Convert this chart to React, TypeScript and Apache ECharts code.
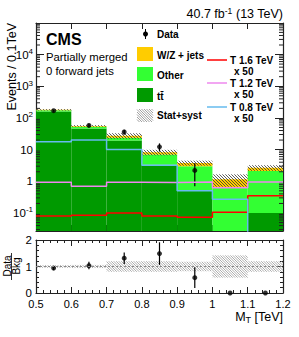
import React, { useEffect, useRef } from "react";
import * as echarts from "echarts";

// ---- data ----
const binLow = [0.5, 0.6, 0.7, 0.8, 0.9, 1.0, 1.1];
const BIN_W = 0.1;
const ttbar = [160, 46, 19.5, 3.3, 0.5, 0.015, 0.1];
const other = [14, 7, 4.2, 3.7, 2.5, 0.62, 2.0];
const wzJets = [6, 3, 3.7, 1.2, 0.8, 0.53, 0.58];
const dataObs = [169, 58, 36, 12.2, 2.2, 0, 0];
const dataErr = [12, 8, 6, 3.5, 1.5, 0, 0];
const relUnc = [0.05, 0.06, 0.2, 0.2, 0.18, 0.42, 0.2];
const sigT16 = [0.08, 0.085, 0.1, 0.08, 0.073, 0.105, 0.35];
const sigT12 = [0.93, 0.7, 0.93, 0.92, 0.95, 0.63, 0.95];
const sigT08 = [17.8, 20, 10, 3.2, 0.5, 0.27, 0.01];
const xTickLabels = ["0.5", "0.6", "0.7", "0.8", "0.9", "1", "1.1", "1.2"];
const logMinorMantissas = [2, 3, 4, 5, 6, 7, 8, 9];
const logDecades = [-2, -1, 0, 1, 2, 3, 4];

const Y_MIN = 0.027;
const Y_MAX = 99000;
const X_MIN = 0.5;
const X_MAX = 1.2;

const FONT = "'Liberation Sans', Arial, Helvetica, sans-serif";
const C_TT = "#009a00";
const C_OTHER = "#33ff33";
const C_WZ = "#ffcc00";
const C_T16 = "#ff0000";
const C_T12 = "#ee88ee";
const C_T08 = "#66bbee";
const AX = "#222";

function hatchLines(x0: number, y0: number, x1: number, y1: number, step: number, stroke: string, lw: number) {
  const out: any[] = [];
  const cStart = Math.ceil((y0 - x1) / step) * step;
  for (let c = cStart; c <= y1 - x0; c += step) {
    const xa = Math.max(x0, y0 - c);
    const xb = Math.min(x1, y1 - c);
    if (xb > xa) {
      out.push({ type: "line", shape: { x1: xa, y1: xa + c, x2: xb, y2: xb + c }, style: { stroke, lineWidth: lw } });
    }
  }
  return out;
}

export default function App() {
  const ref = useRef<HTMLDivElement>(null);
  useEffect(() => {
    const chart = echarts.init(ref.current!, null, { renderer: "svg" });
    const total = binLow.map((_, i) => ttbar[i] + other[i] + wzJets[i]);
    const ratio = binLow.map((_, i) => (total[i] > 0 ? dataObs[i] / total[i] : 0));
    const ratioErr = binLow.map((_, i) => (total[i] > 0 ? dataErr[i] / total[i] : 0));

    const stackFill = (name: string, vals: number[], base: number[], color: string) => ({
      type: "custom",
      name,
      xAxisIndex: 0,
      yAxisIndex: 0,
      clip: true,
      data: binLow.map((x, i) => [x, x + BIN_W, base[i], base[i] + vals[i]]),
      renderItem: (_p: any, api: any) => {
        const top = api.value(3);
        if (top <= Y_MIN) return null;
        const lo = Math.max(api.value(2), Y_MIN);
        const p0 = api.coord([api.value(0), top]);
        const p1 = api.coord([api.value(1), lo]);
        return {
          type: "rect",
          shape: { x: p0[0], y: p0[1], width: p1[0] - p0[0], height: p1[1] - p0[1] },
          style: { fill: color },
        };
      },
    });

    const zeros = binLow.map(() => 0);
    const base2 = ttbar.slice();
    const base3 = binLow.map((_, i) => ttbar[i] + other[i]);

    const stepData = (v: number[]) => [...binLow.map((x, i) => [x, v[i]]), [X_MAX, v[v.length - 1]]];
    const sigLine = (name: string, v: number[], color: string) => ({
      type: "line",
      name,
      xAxisIndex: 0,
      yAxisIndex: 0,
      step: "end",
      symbol: "none",
      clip: true,
      data: stepData(v),
      lineStyle: { color, width: 1.5 },
    });

    const errBars = (xi: number, yi: number, pts: number[][], minY: number) => ({
      type: "custom",
      xAxisIndex: xi,
      yAxisIndex: yi,
      clip: false,
      data: pts,
      renderItem: (_p: any, api: any) => {
        const lo = Math.max(api.value(1), minY);
        const p0 = api.coord([api.value(0), lo]);
        const p1 = api.coord([api.value(0), api.value(2)]);
        return { type: "line", shape: { x1: p0[0], y1: p0[1], x2: p1[0], y2: p1[1] }, style: { stroke: "#000", lineWidth: 1.2 } };
      },
    });

    const mainPts = binLow.map((x, i) => [x + BIN_W / 2, dataObs[i]]).filter((p) => p[1] > 0);
    const mainErr = binLow
      .map((x, i) => [x + BIN_W / 2, dataObs[i] - dataErr[i], dataObs[i] + dataErr[i]])
      .filter((p, i) => dataObs[i] > 0);
    const ratioPts = binLow.map((x, i) => [x + BIN_W / 2, ratio[i]]);
    const ratioErrPts = binLow
      .map((x, i) => [x + BIN_W / 2, ratio[i] - ratioErr[i], ratio[i] + ratioErr[i]])
      .filter((p, i) => ratioErr[i] > 0);

    const minorVals: number[] = [];
    logDecades.forEach((k) =>
      logMinorMantissas.forEach((m) => {
        const v = m * Math.pow(10, k);
        if (v > Y_MIN && v < Y_MAX) minorVals.push(v);
      })
    );

    const xAxisBase = (grid: number, pos: string, labels: boolean, minor: boolean) => ({
      gridIndex: grid,
      type: "value",
      position: pos,
      min: X_MIN,
      max: X_MAX,
      interval: 0.1,
      axisLine: { show: true, onZero: false, lineStyle: { color: AX, width: 1.2 } },
      axisTick: { show: true, inside: true, length: 6, lineStyle: { color: AX } },
      minorTick: { show: minor, splitNumber: 5, length: 3, lineStyle: { color: AX } },
      splitLine: { show: false },
      minorSplitLine: { show: false },
      axisLabel: {
        show: labels,
        margin: 5,
        fontSize: 11,
        fontFamily: FONT,
        color: "#000",
        formatter: (v: number) => xTickLabels[Math.round((v - X_MIN) * 10)] ?? "",
      },
    });

    const logLabel = (v: number) => {
      const k = Math.round(Math.log10(v));
      if (k === 0) return "1";
      if (k === 1) return "10";
      return `10{s|${k}}`;
    };

    const yLog = (pos: string, labels: boolean) => ({
      gridIndex: 0,
      type: "log",
      logBase: 10,
      position: pos,
      min: Y_MIN,
      max: Y_MAX,
      splitNumber: 7,
      axisLine: { show: true, onZero: false, lineStyle: { color: AX, width: 1.2 } },
      axisTick: { show: true, inside: true, length: 8, lineStyle: { color: AX } },
      splitLine: { show: false },
      axisLabel: {
        show: labels,
        showMinLabel: false,
        showMaxLabel: false,
        margin: 3,
        fontSize: 11.5,
        fontFamily: FONT,
        color: "#000",
        formatter: logLabel,
        rich: { s: { fontSize: 8, fontFamily: FONT, color: "#000", verticalAlign: "top", padding: [0, 0, 6, 0] } },
      },
    });

    const yRatio = (pos: string, labels: boolean) => ({
      gridIndex: 1,
      type: "value",
      position: pos,
      min: 0,
      max: 2,
      interval: 1,
      axisLine: { show: true, onZero: false, lineStyle: { color: AX, width: 1.2 } },
      axisTick: { show: true, inside: true, length: 6, lineStyle: { color: AX } },
      minorTick: { show: true, splitNumber: 5, length: 3, lineStyle: { color: AX } },
      splitLine: { show: false },
      minorSplitLine: { show: false },
      axisLabel: { show: labels, margin: 4, fontSize: 11.5, fontFamily: FONT, color: "#000" },
    });

    const legendText = (x: number, y: number, text: string) => ({
      type: "text",
      x,
      y,
      style: { text, fontSize: 10, fontWeight: "bold", fontFamily: FONT, fill: "#000", textVerticalAlign: "middle" },
    });
    const legendBox = (y: number, color: string) => ({
      type: "rect",
      shape: { x: 137, y: y - 7, width: 16, height: 14 },
      style: { fill: color },
    });
    const legendLine = (y: number, color: string) => ({
      type: "line",
      shape: { x1: 207, y1: y, x2: 227, y2: y },
      style: { stroke: color, lineWidth: 1.5 },
    });

    const option: any = {
      animation: false,
      backgroundColor: "#fff",
      grid: [
        { left: 36, top: 23, width: 247, height: 208, outerBoundsMode: "none" },
        { left: 36, top: 240, width: 247, height: 53, outerBoundsMode: "none" },
      ],
      xAxis: [
        xAxisBase(0, "bottom", false, false),
        xAxisBase(0, "top", false, false),
        xAxisBase(1, "bottom", true, true),
        xAxisBase(1, "top", false, true),
      ],
      yAxis: [yLog("left", true), yLog("right", false), yRatio("left", true), yRatio("right", false)],
      series: [
        stackFill("ttbar", ttbar, zeros, C_TT),
        stackFill("Other", other, base2, C_OTHER),
        stackFill("W/Z + jets", wzJets, base3, C_WZ),
        {
          type: "custom",
          name: "Stat+syst",
          xAxisIndex: 0,
          yAxisIndex: 0,
          clip: true,
          data: binLow.map((x, i) => [x, x + BIN_W, total[i] * (1 - relUnc[i]), total[i] * (1 + relUnc[i])]),
          renderItem: (_p: any, api: any) => {
            const p0 = api.coord([api.value(0), api.value(3)]);
            const p1 = api.coord([api.value(1), Math.max(api.value(2), Y_MIN)]);
            return { type: "group", children: hatchLines(p0[0], p0[1], p1[0], p1[1], 3, "#333", 0.8) };
          },
        },
        sigLine("T 1.6 TeV", sigT16, C_T16),
        sigLine("T 1.2 TeV", sigT12, C_T12),
        sigLine("T 0.8 TeV", sigT08, C_T08),
        {
          type: "custom",
          xAxisIndex: 0,
          yAxisIndex: 0,
          clip: false,
          data: [[X_MIN, 1]],
          renderItem: (_p: any, api: any) => {
            const children: any[] = [];
            minorVals.forEach((v) => {
              const l = api.coord([X_MIN, v]);
              const r = api.coord([X_MAX, v]);
              children.push({ type: "line", shape: { x1: l[0], y1: l[1], x2: l[0] + 4, y2: l[1] }, style: { stroke: AX, lineWidth: 1 } });
              children.push({ type: "line", shape: { x1: r[0], y1: r[1], x2: r[0] - 4, y2: r[1] }, style: { stroke: AX, lineWidth: 1 } });
            });
            return { type: "group", children };
          },
        },
        errBars(0, 0, mainErr, Y_MIN),
        {
          type: "scatter",
          name: "Data",
          xAxisIndex: 0,
          yAxisIndex: 0,
          symbol: "circle",
          symbolSize: 5,
          itemStyle: { color: "#000" },
          data: mainPts,
        },
        // ratio panel
        {
          type: "custom",
          xAxisIndex: 2,
          yAxisIndex: 2,
          clip: true,
          data: binLow.map((x, i) => [x, x + BIN_W, 1 - relUnc[i], 1 + relUnc[i]]),
          renderItem: (_p: any, api: any) => {
            const p0 = api.coord([api.value(0), api.value(3)]);
            const p1 = api.coord([api.value(1), api.value(2)]);
            return { type: "group", children: hatchLines(p0[0], p0[1], p1[0], p1[1], 2.5, "#999", 0.8) };
          },
        },
        {
          type: "line",
          xAxisIndex: 2,
          yAxisIndex: 2,
          symbol: "none",
          data: [[X_MIN, 1], [X_MAX, 1]],
          lineStyle: { color: "#888", width: 1.2, type: [2, 2] },
        },
        errBars(2, 2, ratioErrPts, 0),
        {
          type: "scatter",
          xAxisIndex: 2,
          yAxisIndex: 2,
          symbol: "circle",
          symbolSize: 5,
          clip: false,
          itemStyle: { color: "#000" },
          data: ratioPts,
        },
      ],
      graphic: [
        { type: "text", x: 46, y: 39, style: { text: "CMS", fontSize: 16, fontWeight: "bold", fontFamily: FONT, fill: "#000", textVerticalAlign: "middle" } },
        { type: "text", x: 46, y: 57, style: { text: "Partially merged", fontSize: 11.3, fontFamily: FONT, fill: "#000", textVerticalAlign: "middle" } },
        { type: "text", x: 46, y: 71, style: { text: "0 forward jets", fontSize: 11.3, fontFamily: FONT, fill: "#000", textVerticalAlign: "middle" } },
        {
          type: "text",
          x: 283,
          y: 14,
          style: {
            text: "{a|40.7 fb}{s|-1}{a| (13 TeV)}",
            textAlign: "right",
            textVerticalAlign: "middle",
            rich: {
              a: { fontSize: 12.5, fontFamily: FONT, fill: "#000" },
              s: { fontSize: 8.5, fontFamily: FONT, fill: "#000", verticalAlign: "top", padding: [0, 0, 6, 0] },
            },
          },
        },
        {
          type: "text",
          x: 12,
          y: 23,
          rotation: Math.PI / 2,
          style: { text: "Events / 0.1TeV", fontSize: 12.5, fontFamily: FONT, fill: "#000", textAlign: "right", textVerticalAlign: "middle" },
        },
        {
          type: "text",
          x: 7,
          y: 266,
          rotation: Math.PI / 2,
          style: { text: "Data", fontSize: 10, fontFamily: FONT, fill: "#000", textAlign: "center", textVerticalAlign: "middle" },
        },
        { type: "line", shape: { x1: 11.5, y1: 253, x2: 11.5, y2: 280 }, style: { stroke: "#000", lineWidth: 0.8 } },
        {
          type: "text",
          x: 16,
          y: 266,
          rotation: Math.PI / 2,
          style: { text: "Bkg", fontSize: 10, fontFamily: FONT, fill: "#000", textAlign: "center", textVerticalAlign: "middle" },
        },
        {
          type: "text",
          x: 283,
          y: 317,
          style: {
            text: "{a|M}{b|T}{a| [TeV]}",
            textAlign: "right",
            textVerticalAlign: "middle",
            rich: {
              a: { fontSize: 12.5, fontFamily: FONT, fill: "#000" },
              b: { fontSize: 9, fontFamily: FONT, fill: "#000", verticalAlign: "bottom", padding: [5, 0, 0, 0] },
            },
          },
        },
        // legend column 1
        { type: "circle", shape: { cx: 145.5, cy: 34, r: 2.5 }, style: { fill: "#000" } },
        { type: "line", shape: { x1: 145.5, y1: 29, x2: 145.5, y2: 39 }, style: { stroke: "#000", lineWidth: 1 } },
        legendText(157, 34, "Data"),
        legendBox(54, C_WZ),
        legendText(157, 55, "W/Z + jets"),
        legendBox(74, C_OTHER),
        legendText(157, 75, "Other"),
        legendBox(95, C_TT),
        legendText(157, 96, "t\u0074\u0304"),
        { type: "group", children: hatchLines(137, 109, 153, 122, 2.5, "#888", 0.8) },
        legendText(157, 115.5, "Stat+syst"),
        // legend column 2
        legendLine(60, C_T16),
        legendText(230, 60, "T 1.6 TeV"),
        legendText(234, 71, "x 50"),
        legendLine(83, C_T12),
        legendText(230, 83, "T 1.2 TeV"),
        legendText(234, 94, "x 50"),
        legendLine(107, C_T08),
        legendText(230, 107, "T 0.8 TeV"),
        legendText(234, 118, "x 50"),
      ],
    };
    chart.setOption(option);
    return () => chart.dispose();
  }, []);
  return <div ref={ref} style={{ position: "absolute", left: 0, top: 0, width: 299, height: 337 }} />;
}
